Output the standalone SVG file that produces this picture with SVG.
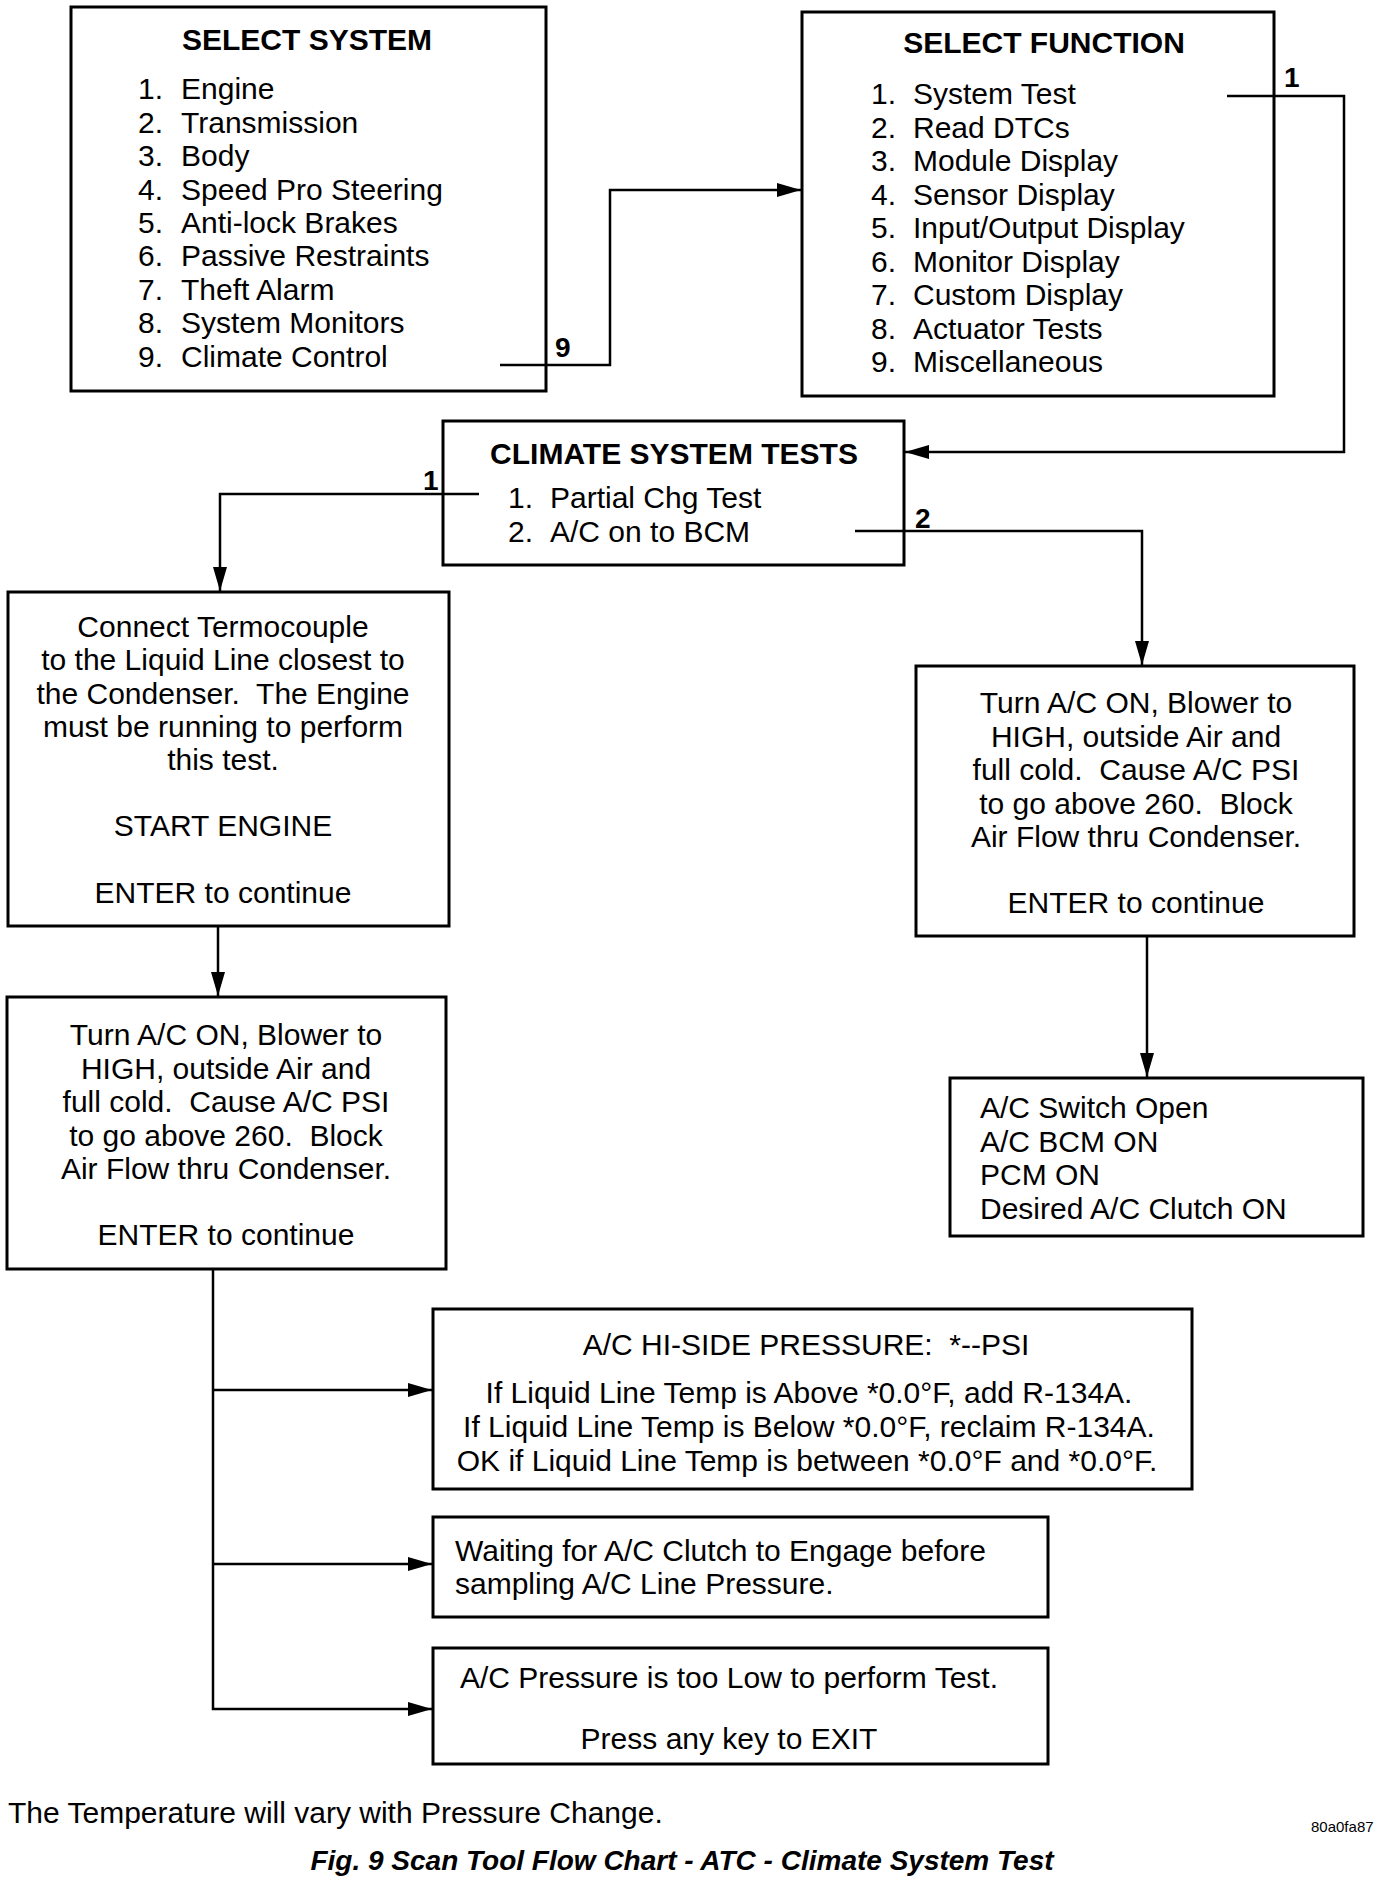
<svg xmlns="http://www.w3.org/2000/svg" width="1392" height="1884" viewBox="0 0 1392 1884">
<style>
.box{fill:#fff;stroke:#000;stroke-width:3}
text{font-family:"Liberation Sans",Arial,Helvetica,sans-serif;fill:#000;white-space:pre}
.t{font-size:30px}
.h{font-size:30px;font-weight:bold}
.c{text-anchor:middle}
.lbl{font-size:28px;font-weight:bold}
.ln{fill:none;stroke:#000;stroke-width:2.5}
</style>
<defs>
<marker id="ah" viewBox="0 0 24 14" refX="24" refY="7" markerWidth="24" markerHeight="14" orient="auto" markerUnits="userSpaceOnUse"><path d="M0,0 L24,7 L0,14 z" fill="#000"/></marker>
</defs>
<rect width="1392" height="1884" fill="#fff"/>

<g id="select-system">
<rect class="box" x="71" y="7" width="475" height="384"/>
<text class="h c" x="307" y="50">SELECT SYSTEM</text>
<g class="t">
<text x="138" y="99">1.</text><text x="181" y="99">Engine</text>
<text x="138" y="133">2.</text><text x="181" y="133">Transmission</text>
<text x="138" y="166">3.</text><text x="181" y="166">Body</text>
<text x="138" y="200">4.</text><text x="181" y="200">Speed Pro Steering</text>
<text x="138" y="233">5.</text><text x="181" y="233">Anti-lock Brakes</text>
<text x="138" y="266">6.</text><text x="181" y="266">Passive Restraints</text>
<text x="138" y="300">7.</text><text x="181" y="300">Theft Alarm</text>
<text x="138" y="333">8.</text><text x="181" y="333">System Monitors</text>
<text x="138" y="367">9.</text><text x="181" y="367">Climate Control</text>
</g>
</g>

<g id="select-function">
<rect class="box" x="802" y="12" width="472" height="384"/>
<text class="h c" x="1044" y="53">SELECT FUNCTION</text>
<g class="t">
<text x="871" y="104">1.</text><text x="913" y="104">System Test</text>
<text x="871" y="137.5">2.</text><text x="913" y="137.5">Read DTCs</text>
<text x="871" y="171">3.</text><text x="913" y="171">Module Display</text>
<text x="871" y="204.5">4.</text><text x="913" y="204.5">Sensor Display</text>
<text x="871" y="238">5.</text><text x="913" y="238">Input/Output Display</text>
<text x="871" y="271.5">6.</text><text x="913" y="271.5">Monitor Display</text>
<text x="871" y="305">7.</text><text x="913" y="305">Custom Display</text>
<text x="871" y="338.5">8.</text><text x="913" y="338.5">Actuator Tests</text>
<text x="871" y="372">9.</text><text x="913" y="372">Miscellaneous</text>
</g>
</g>

<g id="climate-system-tests">
<rect class="box" x="443" y="421" width="461" height="144"/>
<text class="h c" x="674" y="464">CLIMATE SYSTEM TESTS</text>
<g class="t">
<text x="508" y="508">1.</text><text x="550" y="508">Partial Chg Test</text>
<text x="508" y="542">2.</text><text x="550" y="542">A/C on to BCM</text>
</g>
</g>

<g id="connect-thermocouple">
<rect class="box" x="8" y="592" width="441" height="334"/>
<g class="t c">
<text x="223" y="637">Connect Termocouple</text>
<text x="223" y="670">to the Liquid Line closest to</text>
<text x="223" y="703.5">the Condenser.  The Engine</text>
<text x="223" y="737">must be running to perform</text>
<text x="223" y="770">this test.</text>
<text x="223" y="836">START ENGINE</text>
<text x="223" y="903">ENTER to continue</text>
</g>
</g>

<g id="turn-ac-on-left">
<rect class="box" x="7" y="997" width="439" height="272"/>
<g class="t c">
<text x="226" y="1045">Turn A/C ON, Blower to</text>
<text x="226" y="1078.5">HIGH, outside Air and</text>
<text x="226" y="1112">full cold.  Cause A/C PSI</text>
<text x="226" y="1145.5">to go above 260.  Block</text>
<text x="226" y="1179">Air Flow thru Condenser.</text>
<text x="226" y="1245">ENTER to continue</text>
</g>
</g>

<g id="turn-ac-on-right">
<rect class="box" x="916" y="666" width="438" height="270"/>
<g class="t c">
<text x="1136" y="713">Turn A/C ON, Blower to</text>
<text x="1136" y="746.5">HIGH, outside Air and</text>
<text x="1136" y="780">full cold.  Cause A/C PSI</text>
<text x="1136" y="813.5">to go above 260.  Block</text>
<text x="1136" y="847">Air Flow thru Condenser.</text>
<text x="1136" y="913">ENTER to continue</text>
</g>
</g>

<g id="ac-switch-status">
<rect class="box" x="950" y="1078" width="413" height="158"/>
<g class="t">
<text x="980" y="1118">A/C Switch Open</text>
<text x="980" y="1152">A/C BCM ON</text>
<text x="980" y="1185">PCM ON</text>
<text x="980" y="1219">Desired A/C Clutch ON</text>
</g>
</g>

<g id="hi-side-pressure">
<rect class="box" x="433" y="1309" width="759" height="180"/>
<g class="t c">
<text x="806" y="1355">A/C HI-SIDE PRESSURE:  *--PSI</text>
<text x="809" y="1403">If Liquid Line Temp is Above *0.0°F, add R-134A.</text>
<text x="809" y="1437">If Liquid Line Temp is Below *0.0°F, reclaim R-134A.</text>
<text x="807" y="1471">OK if Liquid Line Temp is between *0.0°F and *0.0°F.</text>
</g>
</g>

<g id="waiting-clutch">
<rect class="box" x="433" y="1517" width="615" height="100"/>
<g class="t">
<text x="455" y="1561">Waiting for A/C Clutch to Engage before</text>
<text x="455" y="1594">sampling A/C Line Pressure.</text>
</g>
</g>

<g id="pressure-too-low">
<rect class="box" x="433" y="1648" width="615" height="116"/>
<g class="t c">
<text x="729" y="1688">A/C Pressure is too Low to perform Test.</text>
<text x="729" y="1749">Press any key to EXIT</text>
</g>
</g>

<g id="connectors">
<path class="ln" d="M500 365 H610 V190 H801" marker-end="url(#ah)"/>
<path class="ln" d="M1227 96 H1344 V452 H905" marker-end="url(#ah)"/>
<path class="ln" d="M479 494 H220 V591" marker-end="url(#ah)"/>
<path class="ln" d="M855 531 H1142 V665" marker-end="url(#ah)"/>
<path class="ln" d="M218 926 V996" marker-end="url(#ah)"/>
<path class="ln" d="M1147 936 V1077" marker-end="url(#ah)"/>
<path class="ln" d="M213 1269 V1709 H432" marker-end="url(#ah)"/>
<path class="ln" d="M213 1390 H432" marker-end="url(#ah)"/>
<path class="ln" d="M213 1564 H432" marker-end="url(#ah)"/>
<text class="lbl" x="555" y="357">9</text>
<text class="lbl" x="1284" y="87">1</text>
<text class="lbl" x="423" y="490">1</text>
<text class="lbl" x="915" y="528">2</text>
</g>

<g id="notes">
<text class="t" x="8" y="1823">The Temperature will vary with Pressure Change.</text>
<text x="1311" y="1832" style="font-size:15px">80a0fa87</text>
<text class="c" x="682" y="1870" style="font-size:28px;font-weight:bold;font-style:italic">Fig. 9 Scan Tool Flow Chart - ATC - Climate System Test</text>
</g>
</svg>
